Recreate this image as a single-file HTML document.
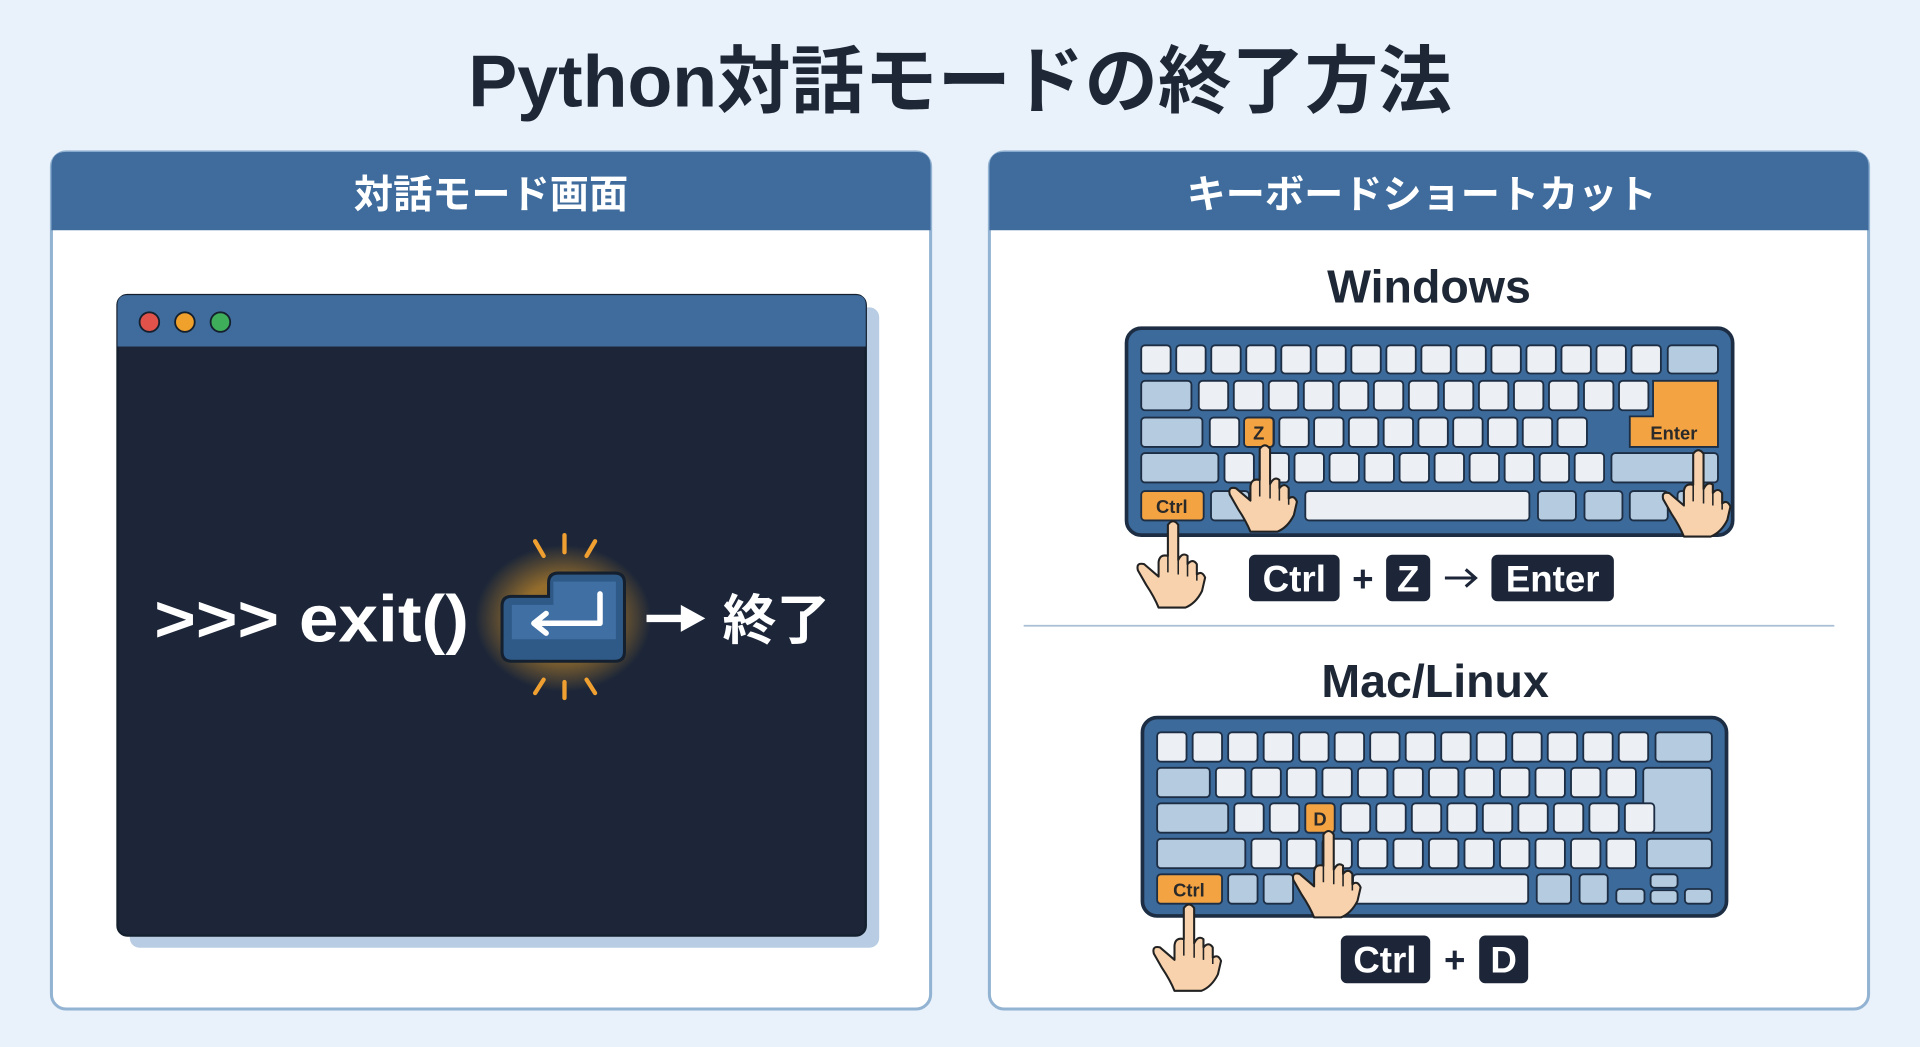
<!DOCTYPE html>
<html><head><meta charset="utf-8"><style>
html,body{margin:0;padding:0;background:#e9f2fb;}
svg{display:block}
text{font-family:"Liberation Sans","Noto Sans CJK JP",sans-serif;font-weight:bold}
</style></head><body>
<svg id="s" width="1920" height="1047" viewBox="0 0 1568 855" xmlns="http://www.w3.org/2000/svg">
<defs>
<radialGradient id="glow"><stop offset="0.5" stop-color="#f5a623" stop-opacity="0.55"/><stop offset="1" stop-color="#f5a623" stop-opacity="0"/></radialGradient>
<symbol id="hand" viewBox="-40 -5 80 90" overflow="visible">
<path d="M-5,4 Q0,-3 5,4 L5,38 Q9,30 14,34 L14,42 Q19,36 23,42 L23,52 Q28,48 31,55 L28,68 Q22,80 12,84 L-14,84 Q-18,74 -26,62 L-34,48 Q-36,40 -28,42 L-14,54 L-14,40 Q-13,32 -5,34 Z" fill="#f8d2ad" stroke="#222" stroke-width="2" stroke-linejoin="round"/>
<path d="M5,38 L5,52 M14,42 L14,54 M23,52 L23,58 M-5,34 L-5,50" stroke="#222" stroke-width="1.5" fill="none"/>
</symbol>
</defs>
<rect width="1568" height="855" fill="#e9f2fb"/>
<text x="784" y="87" text-anchor="middle" font-size="60" fill="#1d2736">Python対話モードの終了方法</text>

<rect x="42" y="124" width="718" height="700" rx="12" fill="#fff" stroke="#93b3d3" stroke-width="2.5"/>
<path d="M42,188 L42,136 Q42,124 54,124 L748,124 Q760,124 760,136 L760,188 Z" fill="#3f6c9c"/>
<text x="401" y="170" text-anchor="middle" font-size="32" fill="#fff">対話モード画面</text>
<rect x="106" y="251" width="612" height="523" rx="8" fill="#b8cde3"/>
<rect x="96" y="241" width="611" height="523" rx="8" fill="#1c2638" stroke="#15202f" stroke-width="2"/>
<path d="M96,283 L96,249 Q96,241 104,241 L699,241 Q707,241 707,249 L707,283 Z" fill="#3f6c9c"/>
<circle cx="122" cy="263" r="8" fill="#e0524a" stroke="#15202f" stroke-width="1.5"/>
<circle cx="151" cy="263" r="8" fill="#f0a12c" stroke="#15202f" stroke-width="1.5"/>
<circle cx="180" cy="263" r="8" fill="#3fae5a" stroke="#15202f" stroke-width="1.5"/>
<text x="126" y="524" font-size="54" fill="#fff" textLength="257" lengthAdjust="spacingAndGlyphs">&gt;&gt;&gt; exit()</text>
<ellipse cx="460" cy="505" rx="72" ry="60" fill="url(#glow)"/>
<path d="M410,495 Q410,487 418,487 L448,487 L448,476 Q448,468 456,468 L502,468 Q510,468 510,476 L510,532 Q510,540 502,540 L418,540 Q410,540 410,532 Z" fill="#2f5a88" stroke="#14202f" stroke-width="2.5"/>
<path d="M418,494 L452,494 L452,475 L503,475 L503,522 L418,522 Z" fill="#3f6fa3"/>
<path d="M490,485 L490,509 L438,509 M446,501 L436,509 L446,517" stroke="#fff" stroke-width="4.5" fill="none" stroke-linecap="round" stroke-linejoin="round"/>
<g stroke="#f0a030" stroke-width="3.5" stroke-linecap="round">
<line x1="437" y1="442" x2="444" y2="454"/><line x1="461" y1="437" x2="461" y2="451"/><line x1="486" y1="442" x2="479" y2="454"/>
<line x1="437" y1="566" x2="444" y2="555"/><line x1="461" y1="570" x2="461" y2="557"/><line x1="486" y1="566" x2="479" y2="555"/>
</g>
<path d="M528,505 L560,505" stroke="#fff" stroke-width="6"/><path d="M556,494 L576,505 L556,516 Z" fill="#fff"/>
<text x="590" y="522" font-size="44" fill="#fff">終了</text>

<rect x="808" y="124" width="718" height="700" rx="12" fill="#fff" stroke="#93b3d3" stroke-width="2.5"/>
<path d="M808,188 L808,136 Q808,124 820,124 L1514,124 Q1526,124 1526,136 L1526,188 Z" fill="#3f6c9c"/>
<text x="1161" y="170" text-anchor="middle" font-size="32" fill="#fff">キーボードショートカット</text>
<text x="1167" y="247" text-anchor="middle" font-size="38" fill="#1d2736">Windows</text>
<line x1="836" y1="511" x2="1498" y2="511" stroke="#a9bfd4" stroke-width="1.5"/>
<text x="1172" y="569" text-anchor="middle" font-size="38" fill="#1d2736">Mac/Linux</text>

<rect x="920" y="268" width="495" height="169" rx="12" fill="#3c6a9a" stroke="#1d2e44" stroke-width="3"/>
<rect x="933" y="586" width="477" height="162" rx="12" fill="#3c6a9a" stroke="#1d2e44" stroke-width="3"/>
<g id="keys" stroke="#1d2e44" stroke-width="1.5"></g>
<g font-size="15" fill="#2a2a2a">
<path d="M1350,311 L1403,311 L1403,365 L1331,365 L1331,340 L1350,340 Z" fill="#f3a342" stroke="#1d2e44" stroke-width="1.5"/>
<text x="1367" y="359" text-anchor="middle">Enter</text>
<rect x="1016" y="341" width="24" height="24" rx="3" fill="#f3a342" stroke="#1d2e44" stroke-width="1.5"/><text x="1028" y="359" text-anchor="middle">Z</text>
<rect x="932" y="401" width="51" height="24" rx="3" fill="#f3a342" stroke="#1d2e44" stroke-width="1.5"/><text x="957" y="419" text-anchor="middle">Ctrl</text>
<rect x="1066" y="656" width="24" height="24" rx="3" fill="#f3a342" stroke="#1d2e44" stroke-width="1.5"/><text x="1078" y="674" text-anchor="middle">D</text>
<rect x="945" y="714" width="53" height="24" rx="3" fill="#f3a342" stroke="#1d2e44" stroke-width="1.5"/><text x="971" y="732" text-anchor="middle">Ctrl</text>
</g>
<use href="#hand" x="998" y="359" width="70" height="76"/>
<use href="#hand" x="1352" y="363" width="70" height="76"/>
<use href="#hand" x="923" y="421" width="70" height="76"/>
<use href="#hand" x="1050" y="674" width="70" height="76"/>
<use href="#hand" x="936" y="734" width="70" height="76"/>

<g font-size="30" fill="#fff">
<rect x="1020" y="453" width="74" height="38" rx="5" fill="#1c2638"/><text x="1057" y="483" text-anchor="middle">Ctrl</text>
<text x="1113" y="483" text-anchor="middle" fill="#1c2638">+</text>
<rect x="1132" y="453" width="36" height="38" rx="5" fill="#1c2638"/><text x="1150" y="483" text-anchor="middle">Z</text>
<path d="M1180,472 L1204,472 M1197,465 L1205,472 L1197,479" stroke="#1c2638" stroke-width="2.5" fill="none"/>
<rect x="1218" y="453" width="100" height="38" rx="5" fill="#1c2638"/><text x="1268" y="483" text-anchor="middle">Enter</text>
<rect x="1095" y="764" width="73" height="39" rx="5" fill="#1c2638"/><text x="1131" y="794" text-anchor="middle">Ctrl</text>
<text x="1188" y="794" text-anchor="middle" fill="#1c2638">+</text>
<rect x="1208" y="764" width="40" height="39" rx="5" fill="#1c2638"/><text x="1228" y="794" text-anchor="middle">D</text>
</g>
</svg>
<script>
var g=document.getElementById('keys'),L='#eceff3',B='#b5cbe0';
function k(x,y,w,h,c){var r=document.createElementNS('http://www.w3.org/2000/svg','rect');r.setAttribute('x',x);r.setAttribute('y',y);r.setAttribute('width',w);r.setAttribute('height',h);r.setAttribute('rx',3);r.setAttribute('fill',c);g.appendChild(r);}
function row(x0,y,n,step,w,h){for(var i=0;i<n;i++)k(x0+i*step,y,w,h,L);}
row(932,282,15,28.6,24,23);k(1362,282,41,23,B);
k(932,311,41,24,B);row(979,311,13,28.6,24,24);
k(932,341,50,24,B);row(988,341,11,28.4,24,24);
k(932,370,63,24,B);row(1000,370,11,28.6,24,24);k(1316,370,87,24,B);
k(989,401,31,24,B);k(1066,401,183,24,L);k(1256,401,31,24,B);k(1294,401,31,24,B);k(1331,401,31,24,B);k(1370,401,33,24,B);
row(945,598,14,29,24,24);k(1352,598,46,24,B);
k(945,627,43,24,B);row(993,627,12,29,24,24);
k(1342,627,56,53,B);
k(945,656,58,24,B);row(1008,656,12,29,24,24);
k(945,685,72,24,B);row(1022,685,11,29,24,24);k(1345,685,53,24,B);
k(1003,714,24,24,B);k(1032,714,24,24,B);k(1105,714,143,24,L);k(1255,714,28,24,B);k(1290,714,23,24,B);k(1320,726,23,12,B);k(1348,714,22,11,B);k(1348,727,22,11,B);k(1376,726,22,12,B);
</script>
</body></html>
